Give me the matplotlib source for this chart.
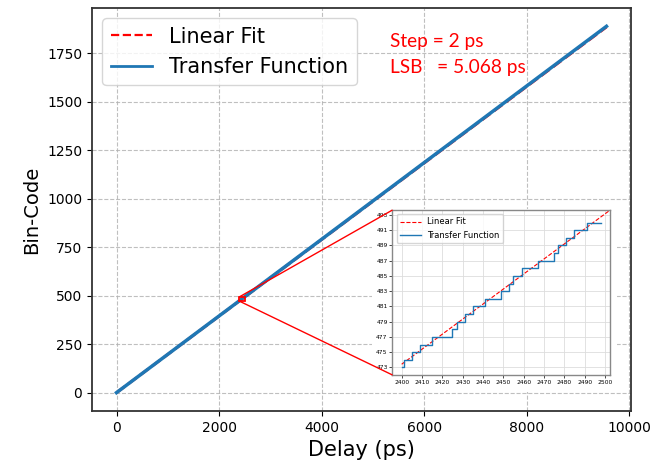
import matplotlib
matplotlib.use("Agg")
import matplotlib.pyplot as plt
from matplotlib.patches import Rectangle
from mpl_toolkits.axes_grid1.inset_locator import mark_inset

# ---- data ----
main_delay = [0, 9556]          # ps
main_code = [0, 1889]           # bin code (transfer function, full range)
lsb = 5.068                     # ps per code (linear fit slope)
fit_offset = -0.15              # code offset of fit
fit_main_x = [0, 9556]

inset_delay = list(range(2400, 2500, 2))
inset_code = [473,
              474, 474,
              475, 475,
              476, 476, 476,
              477, 477, 477, 477, 477,
              478,
              479, 479,
              480, 480,
              481, 481, 481,
              482, 482, 482, 482,
              483, 483,
              484,
              485, 485,
              486, 486, 486, 486,
              487, 487, 487, 487,
              488,
              489, 489,
              490, 490,
              491, 491, 491,
              492, 492, 492, 492]
fit_inset_x = [2400, 2502]

step_text = "Step = 2 ps"
lsb_text = "LSB   = 5.068 ps"

# ---- figure ----
fig = plt.figure(figsize=(6.54, 4.62), dpi=100)
ax = fig.add_axes([0.1407, 0.1104, 0.8241, 0.8723])

fit_main_y = [x / lsb + fit_offset for x in fit_main_x]
ax.plot(fit_main_x, fit_main_y, color='red', linestyle='--', lw=2, label='Linear Fit')
ax.plot(main_delay, main_code, color='#1f77b4', lw=2.5, label='Transfer Function')
ax.grid(True, linestyle='--', color='#b0b0b0', alpha=0.8, lw=0.8)
ax.set_xlabel('Delay (ps)', fontsize=15)
ax.set_ylabel('Bin-Code', fontsize=14)
ax.tick_params(labelsize=10)
ax.set_xticks([0, 2000, 4000, 6000, 8000, 10000])
ax.set_yticks([0, 250, 500, 750, 1000, 1250, 1500, 1750])
for s in ax.spines.values():
    s.set_linewidth(1.3)
    s.set_color('#333333')
leg = ax.legend(loc='upper left', fontsize=15, handlelength=2.0)
leg.get_lines()[0].set_linewidth(1.6)
leg.get_lines()[1].set_linewidth(2.0)

ax.text(0.553, 0.9025, step_text, transform=ax.transAxes, color='red',
        fontsize=13.8, family='Lato', va='baseline')
ax.text(0.553, 0.838, lsb_text, transform=ax.transAxes, color='red',
        fontsize=13.8, family='Lato', va='baseline')

# white background behind inset (covers tick label area)
ax.add_patch(Rectangle((372 / 654, (462 - 392) / 462), (617 - 372) / 654, (392 - 209) / 462,
                       transform=fig.transFigure, facecolor='white', edgecolor='none',
                       zorder=3))

# ---- inset ----
axins = ax.inset_axes([(392.5 - 92) / 539, (411 - 375) / 403, 218 / 539, 165 / 403])
fit_inset_y = [x / lsb + fit_offset for x in fit_inset_x]
axins.plot(fit_inset_x, fit_inset_y, color='red', linestyle='--', lw=0.8, label='Linear Fit')
axins.step(inset_delay, inset_code, where='mid', color='#1f77b4', lw=1.0,
           label='Transfer Function')
axins.set_xlim(2395.5, 2502.7)
axins.set_ylim(472.0, 493.65)
axins.set_xticks(range(2400, 2501, 10))
axins.set_yticks(range(473, 494, 2))
axins.tick_params(labelsize=4.3, length=2, width=0.5, pad=1.5)
axins.grid(True, linestyle='-', color='#dddddd', lw=0.6)
for s in axins.spines.values():
    s.set_color('#888888')
    s.set_linewidth(1.0)
axins.legend(loc='upper left', fontsize=6, handlelength=2.5, borderpad=0.4)

rect, c1, c2 = mark_inset(ax, axins, loc1=2, loc2=3, fc='none', ec='red', lw=1.0)
rect.set_linewidth(1.3)
c1.set_zorder(4)
c2.set_zorder(4)
rect.set_zorder(4)

fig.savefig('out.png', dpi=100)
